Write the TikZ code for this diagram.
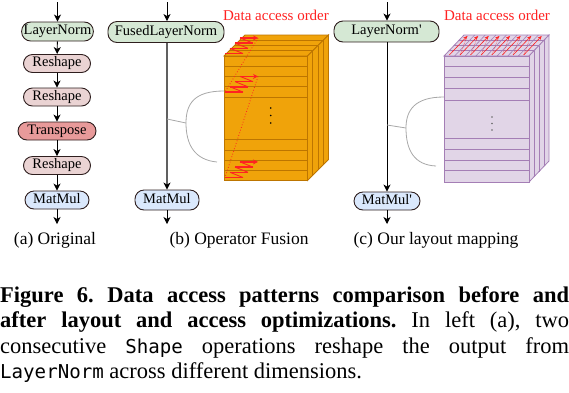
\documentclass[tikz,border=0pt]{standalone}
\usepackage{fontspec}
\setmainfont{Liberation Serif}
\setmonofont{DejaVu Sans Mono}[Scale=0.85]
\usetikzlibrary{arrows.meta}
\definecolor{lngreen}{HTML}{D5E8D4}
\definecolor{rspink}{HTML}{EAD3D3}
\definecolor{trred}{HTML}{E89A9A}
\definecolor{mmblue}{HTML}{DAE8FC}
\definecolor{nodeedge}{HTML}{2E1E1E}
\definecolor{orfill}{HTML}{F0A30A}
\definecolor{oredge}{HTML}{BD7500}
\definecolor{pufill}{HTML}{E1D5E7}
\definecolor{puedge}{HTML}{A47EB5}
\definecolor{accred}{HTML}{FF2222}
\definecolor{bracegray}{HTML}{A8A8A8}
\tikzset{
  op/.style={draw=nodeedge, line width=0.9pt, rounded corners=9pt, inner xsep=2pt, inner ysep=0pt,
    font=\fontsize{14.5}{16}\selectfont, text height=9.5pt, text depth=3pt},
  flow/.style={-{Stealth[length=7pt,width=7pt,inset=2pt,color=black]}, line width=0.9pt},
  bracestyle/.style={draw=bracegray, line width=0.8pt},
  zzthick/.style={draw=accred, line width=1.6pt},
  zzthin/.style={draw=accred, line width=0.9pt},
  accdots/.style={draw=accred, dotted, line width=0.8pt},
  acclabel/.style={text=accred, font=\fontsize{15}{17}\selectfont, inner sep=0pt},
  sublabel/.style={font=\fontsize{17.5}{20}\selectfont, inner sep=0pt},
  capline/.style={anchor=base west, inner sep=0pt, font=\fontsize{22.5}{25}\selectfont},
}
\newcommand\zigzag[2]{%
  \draw[zzthin] (#1+18,#2) -- (#1+5,#2-5.2) (#1+23,#2-5.2) -- (#1+10,#2-10.4) (#1+28,#2-10.4) -- (#1+15,#2-15.6);
  \draw[zzthick] (#1,#2) -- ++(18,0) (#1+5,#2-5.2) -- ++(18,0) (#1+10,#2-10.4) -- ++(18,0);
  \draw[zzthick, -{Stealth[length=5pt,width=5pt]}] (#1+15,#2-15.6) -- ++(18,0);
}
\begin{document}
\frenchspacing
\begin{tikzpicture}[x=1pt,y=-1pt]
\useasboundingbox (0,0) rectangle (569,392);

% ---------- (a) Original ----------
\node[op, fill=lngreen, minimum width=71pt, minimum height=19pt] (aln) at (57.5,31.5) {LayerNorm};
\node[op, fill=rspink, minimum width=67pt, minimum height=18pt] (ars1) at (57,63.5) {Reshape};
\node[op, fill=rspink, minimum width=67pt, minimum height=18pt] (ars2) at (57,97) {Reshape};
\node[op, fill=trred, minimum width=78pt, minimum height=18pt] (atr) at (57,131) {Transpose};
\node[op, fill=rspink, minimum width=67pt, minimum height=18pt] (ars3) at (57,165.5) {Reshape};
\node[op, fill=mmblue, minimum width=64pt, minimum height=18pt] (amm) at (57,200) {MatMul};
\coordinate (ain) at (57.5,2);
\coordinate (aout) at (57,224);
\draw[flow] (ain) -- (aln);
\draw[flow] (aln) -- (ars1);
\draw[flow] (ars1) -- (ars2);
\draw[flow] (ars2) -- (atr);
\draw[flow] (atr) -- (ars3);
\draw[flow] (ars3) -- (amm);
\draw[flow] (amm) -- (aout);
\node[sublabel] (acap) at (55,240) {(a) Original};

% ---------- (b) Operator Fusion ----------
\node[op, fill=lngreen, minimum width=116pt, minimum height=21pt] (bln) at (166,32) {FusedLayerNorm};
\node[op, fill=mmblue, minimum width=64pt, minimum height=20pt] (bmm) at (167,200) {MatMul};
\coordinate (bin) at (167,2);
\coordinate (bout) at (167,224);
\draw[flow] (bin) -- (bin |- bln.north);
\draw[flow, draw=gray!75!black, line width=1.4pt] (bmm.north |- bln.south) -- (bmm);
\draw[flow] (bmm) -- (bout);
\node[sublabel] (bcap) at (239,240) {(b) Operator Fusion};
\node[acclabel] (blab) at (276,15) {Data access order};

\begin{scope}[shift={(224,56)}]
  \filldraw[fill=orfill, draw=oredge, line width=0.8pt] (0,0) -- (21,-21) -- (104.5,-21) -- (83.5,0) -- cycle;
  \filldraw[fill=orfill, draw=oredge, line width=0.8pt] (83.5,0) -- (104.5,-21) -- (104.5,103.5) -- (83.5,124.5) -- cycle;
  \filldraw[fill=orfill, draw=oredge, line width=0.8pt] (0,0) rectangle (83.5,124.5);
  \foreach \k in {1,2,3} {
    \draw[oredge, line width=0.8pt] (5.25*\k,-5.25*\k) -- (83.5+5.25*\k,-5.25*\k);
    \draw[oredge, line width=0.8pt] (83.5+5.25*\k,-5.25*\k) -- (83.5+5.25*\k,124.5-5.25*\k);
  }
  \foreach \y in {10.7,20.7,30.7,41.3,83.3,94,104.7,114.7}
    \draw[oredge, line width=0.8pt] (0,\y) -- (83.5,\y);
  \fill (46.7,52) circle (0.9pt) (46.7,59.5) circle (0.9pt) (46.7,67) circle (0.9pt);
\end{scope}
\zigzag{225}{53.5}
\zigzag{225}{92}
\zigzag{225}{177.5}
\draw[accdots] (258,38) -- (225,92);
\draw[accdots] (258,76.5) -- (225,177.5);

\coordinate (bj) at (167,119);
\draw[bracestyle] (bj) -- (186,123);
\draw[bracestyle] (224,91) .. controls (195,91) and (186,103) .. (186,123) .. controls (186,145) and (195,160) .. (217,162);

% ---------- (c) Our layout mapping ----------
\node[op, fill=lngreen, minimum width=105pt, minimum height=21pt] (cln) at (386.5,31.5) {LayerNorm\textquotesingle};
\node[op, fill=mmblue, minimum width=66pt, minimum height=18pt] (cmm) at (387,201) {MatMul\textquotesingle};
\coordinate (cin) at (387,2);
\coordinate (cout) at (387,224);
\draw[flow] (cin) -- (cin |- cln.north);
\draw[flow] (cmm.north |- cln.south) -- (cmm);
\draw[flow] (cmm) -- (cout);
\node[sublabel] (ccap) at (436,240) {(c) Our layout mapping};
\node[acclabel] (clab) at (497,15) {Data access order};

\begin{scope}[shift={(444,56)}]
  \filldraw[fill=pufill, draw=puedge, line width=0.8pt] (0,0) -- (20,-21) -- (105,-21) -- (85,0) -- cycle;
  \filldraw[fill=pufill, draw=puedge, line width=0.8pt] (85,0) -- (105,-21) -- (105,105) -- (85,126) -- cycle;
  \filldraw[fill=pufill, draw=puedge, line width=0.8pt] (0,0) rectangle (85,126);
  \foreach \k in {1,2,3} {
    \draw[puedge, line width=0.8pt] (5*\k,-5.25*\k) -- (85+5*\k,-5.25*\k);
    \draw[puedge, line width=0.8pt] (85+5*\k,-5.25*\k) -- (85+5*\k,126-5.25*\k);
  }
  \foreach \i in {1,...,7}
    \draw[puedge, line width=0.6pt] (10.625*\i,0) -- (10.625*\i+20,-21);
  \foreach \y in {10,21.3,32.3,44,82.3,93,104,114.7}
    \draw[puedge, line width=0.8pt] (0,\y) -- (85,\y);
  \fill[gray!80!black] (48,61) circle (0.9pt) (48,67.5) circle (0.9pt) (48,74) circle (0.9pt);
  \foreach \i in {0,...,7} {
    \draw[accred, line width=0.6pt, -{Stealth[length=4pt,width=3.5pt]}] (10.625*\i+5.3,-1) -- (10.625*\i+23.3,-20);
  }
  \foreach \i in {0,...,6} {
    \draw[accred, densely dotted, line width=0.5pt] (10.625*\i+23.3,-20) -- (10.625*\i+15.9,-1);
  }
\end{scope}

\coordinate (cj) at (387,125);
\draw[bracestyle] (cj) -- (406,128);
\draw[bracestyle] (444,97) .. controls (415,97) and (406,110) .. (406,128) .. controls (406,150) and (414,165) .. (436,166);

% ---------- caption ----------
\node[capline] (cap1) at (0,302) {\makebox[569pt][s]{\bfseries Figure 6. Data access patterns comparison before and}};
\node[capline] (cap2) at (0,327.5) {\makebox[569pt][s]{\textbf{after layout and access optimizations.} In left (a), two}};
\node[capline] (cap3) at (0,353) {\makebox[569pt][s]{consecutive \texttt{Shape} operations reshape the output from}};
\node[capline] (cap4) at (0,378.5) {\texttt{LayerNorm} across different dimensions.};
\end{tikzpicture}
\end{document}
